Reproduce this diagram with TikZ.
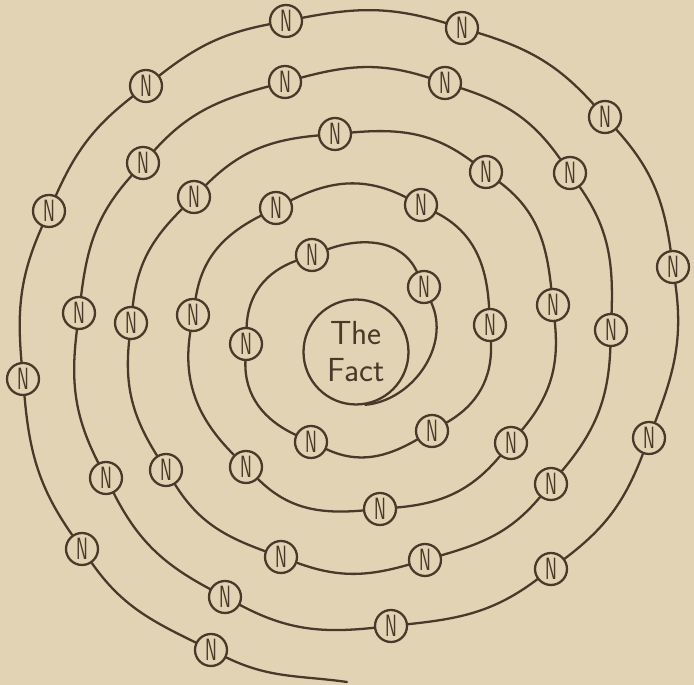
\documentclass[tikz,border=0pt]{standalone}
\usepackage{fontspec}
\usepackage{graphicx}
\usetikzlibrary{calc}

\definecolor{paper}{RGB}{225,211,179}
\definecolor{ink}{RGB}{74,56,42}

\begin{document}
\begin{tikzpicture}[
    x=0.02cm, y=0.02cm,
    % Node styles
    fact/.style={
        circle, draw=ink, fill=paper, line width=1.3pt,
        minimum size=2.1cm, inner sep=0pt, align=center,
        text=ink, font=\sffamily\fontsize{19}{21}\selectfont
    },
    electron/.style={
        circle, draw=ink, fill=paper, line width=1.3pt,
        minimum size=0.64cm, inner sep=0pt, text=ink,
        font=\sffamily\fontsize{17.5}{17.5}\selectfont
    },
    orbit/.style={draw=ink, line width=1.3pt, line cap=round},
]

% background and page size
\fill[paper] (0,0) rectangle (694,685);
\useasboundingbox (0,0) rectangle (694,685);

% ═══════════════════════════════════════════════════════════════
% The fact in the middle
% ═══════════════════════════════════════════════════════════════

\node[fact] (fact) at (356,333) {The\\Fact};

% ═══════════════════════════════════════════════════════════════
% N's along the spiral (from inside out)
% ═══════════════════════════════════════════════════════════════

\foreach \i/\x/\y in {
    0/424/398, 1/312/430, 2/246/341, 3/311/243, 4/432/254,
    5/490/360, 6/421/480, 7/276/477, 8/193/370, 9/246/218,
    10/380/176, 11/511/242, 12/553/380, 13/486/513, 14/335/551,
    15/194/488, 16/131/362, 17/166/215, 18/281/128, 19/425/125,
    20/551/201, 21/611/355, 22/570/512, 23/445/602, 24/285/603,
    25/143/522, 26/79/372, 27/106/207, 28/225/88, 29/391/59,
    30/551/116, 31/649/247, 32/673/418, 33/605/568, 34/462/657,
    35/286/664, 36/146/599, 37/49/474, 38/23/306, 39/82/136,
    40/211/35}
{
    \node[electron] (n\i) at (\x,\y) {\scalebox{0.58}[1]{N}};
}

\coordinate (tail) at (347,3);

% ═══════════════════════════════════════════════════════════════
% Spiral
% ═══════════════════════════════════════════════════════════════

\draw[orbit] (fact.-80) to[out=5, in=295] (n0);

\foreach \a/\b/\o/\n in {
    0/1/115/20, 1/2/200/88, 2/3/268/155, 3/4/335/210, 4/5/30/273,
    5/6/93/333, 6/7/153/27, 7/8/207/81, 8/9/261/135, 9/10/315/185,
    10/11/5/230, 11/12/50/276, 12/13/96/323, 13/14/143/5,
    14/15/185/45, 15/16/225/84, 16/17/264/122, 17/18/302/160,
    18/19/340/196, 19/20/16/230, 20/21/50/268, 21/22/88/305,
    22/23/125/342, 23/24/162/15, 24/25/195/48, 25/26/228/83,
    26/27/263/117, 27/28/297/152, 28/29/332/186, 29/30/6/217,
    30/31/37/249, 31/32/69/278, 32/33/98/312, 33/34/132/343,
    34/35/163/11, 35/36/191/38, 36/37/218/66, 37/38/246/95,
    38/39/275/125, 39/40/305/154}
{
    \draw[orbit] (n\a) to[out=\o, in=\n] (n\b);
}

\draw[orbit] (n40) to[out=334, in=172] (tail);

\end{tikzpicture}
\end{document}
